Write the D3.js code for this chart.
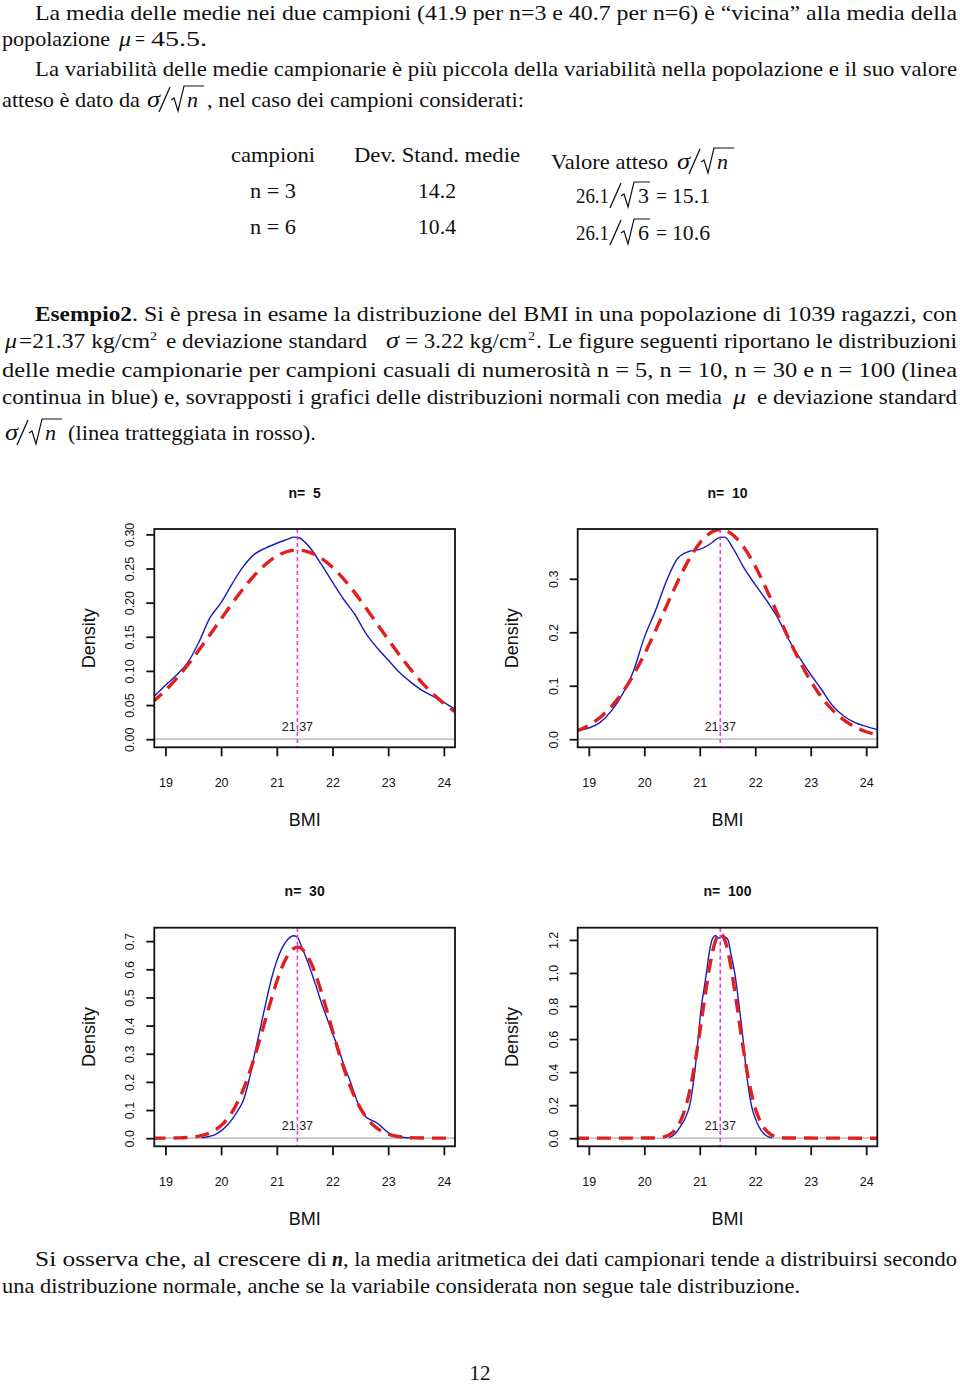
<!DOCTYPE html>
<html><head><meta charset="utf-8">
<script src="https://cdn.jsdelivr.net/npm/d3@7"></script>
<style>body{margin:0;background:#fff}</style>
</head><body>
<script>
// ---------------- DATA ----------------
const mu = 21.37;
const xLim = [18.8, 24.2];
const xTicks = [19, 20, 21, 22, 23, 24];
const titles = ["n=  5", "n=  10", "n=  30", "n=  100"];
const yTicks5 = [0, 0.05, 0.10, 0.15, 0.20, 0.25, 0.30];
const yTicks10 = [0, 0.1, 0.2, 0.3];
const yTicks30 = [0, 0.1, 0.2, 0.3, 0.4, 0.5, 0.6, 0.7];
const yTicks100 = [0, 0.2, 0.4, 0.6, 0.8, 1.0, 1.2];

// sample-mean densities (blue solid)
const bmi5 = [18.79,19.0,19.2,19.4,19.6,19.8,20.0,20.2,20.4,20.6,20.8,21.0,21.2,21.3,21.4,21.5,21.6,21.8,22.0,22.2,22.4,22.6,22.8,23.0,23.2,23.4,23.6,23.8,24.0,24.22];
const dens5 = [0.062,0.079,0.094,0.112,0.142,0.178,0.200,0.228,0.253,0.271,0.280,0.287,0.293,0.296,0.295,0.289,0.280,0.256,0.230,0.205,0.183,0.155,0.134,0.116,0.098,0.084,0.072,0.063,0.054,0.043];
const bmi10 = [18.8,19.0,19.2,19.4,19.6,19.8,20.0,20.2,20.4,20.6,20.8,21.0,21.2,21.35,21.45,21.6,21.8,22.0,22.2,22.4,22.6,22.8,23.0,23.2,23.4,23.6,23.8,24.0,24.2];
const dens10 = [0.016,0.021,0.031,0.052,0.083,0.126,0.190,0.240,0.296,0.338,0.351,0.355,0.366,0.377,0.378,0.357,0.320,0.289,0.260,0.228,0.187,0.152,0.121,0.092,0.062,0.043,0.031,0.024,0.018];
const bmi30 = [19.65,19.8,19.9,20.0,20.1,20.2,20.3,20.4,20.5,20.6,20.7,20.8,20.9,21.0,21.1,21.2,21.3,21.36,21.45,21.6,21.7,21.8,21.9,22.0,22.1,22.2,22.3,22.4,22.5,22.6,22.7,22.8,22.9,23.0,23.1,23.2,23.4];
const dens30 = [0.001,0.007,0.014,0.026,0.044,0.068,0.098,0.135,0.205,0.298,0.387,0.478,0.563,0.630,0.678,0.707,0.719,0.716,0.678,0.601,0.543,0.482,0.427,0.372,0.322,0.263,0.212,0.155,0.103,0.075,0.064,0.054,0.037,0.020,0.010,0.005,0.001];
const bmi100 = [20.45,20.55,20.65,20.75,20.82,20.87,20.91,20.97,21.03,21.08,21.12,21.17,21.22,21.28,21.35,21.42,21.47,21.51,21.57,21.63,21.71,21.78,21.84,21.93,22.0,22.1,22.2,22.3];
const dens100 = [0.003,0.025,0.070,0.130,0.200,0.300,0.400,0.600,0.800,0.910,1.000,1.120,1.200,1.225,1.210,1.225,1.215,1.200,1.100,1.000,0.800,0.600,0.400,0.200,0.120,0.050,0.015,0.003];

// normal reference curves (red dashed)
const normX5 = [18.75,19,19.25,19.5,19.75,20,20.25,20.5,20.75,21,21.25,21.37,21.5,21.75,22,22.25,22.5,22.75,23,23.25,23.5,23.75,24,24.25];
const normY5 = [0.0530,0.0715,0.0937,0.1192,0.1471,0.1762,0.2047,0.2308,0.2525,0.2681,0.2761,0.2770,0.2759,0.2676,0.2518,0.2299,0.2036,0.1750,0.1460,0.1182,0.0928,0.0707,0.0523,0.0375];
const normX10 = normX5;
const normY10 = [0.0143,0.0261,0.0449,0.0726,0.1105,0.1585,0.2140,0.2720,0.3255,0.3668,0.3891,0.3918,0.3886,0.3654,0.3235,0.2697,0.2117,0.1564,0.1088,0.0713,0.0439,0.0255,0.0140,0.0072];
const normX30 = [18.75,19.25,19.5,19.625,19.75,19.875,20,20.125,20.25,20.375,20.5,20.625,20.75,20.875,21,21.125,21.25,21.375,21.5,21.625,21.75,21.875,22,22.125,22.25,22.375,22.5,22.625,22.75,22.875,23,23.125,23.25,23.5,24.25];
const normY30 = [0.0000,0.0010,0.0043,0.0083,0.0152,0.0268,0.0449,0.0721,0.1105,0.1620,0.2270,0.3040,0.3892,0.4761,0.5567,0.6222,0.6646,0.6786,0.6622,0.6177,0.5507,0.4692,0.3822,0.2975,0.2214,0.1574,0.1070,0.0695,0.0432,0.0256,0.0145,0.0079,0.0041,0.0010,0.0000];
const normX100 = [18.75,20.17,20.27,20.37,20.47,20.57,20.67,20.77,20.87,20.97,21.07,21.17,21.27,21.37,21.47,21.57,21.67,21.77,21.87,21.97,22.07,22.17,22.27,22.37,22.47,22.57,24.25];
const normY100 = [0,0.0012,0.0036,0.0100,0.0249,0.0566,0.1166,0.2183,0.3711,0.5727,0.8027,1.0216,1.1806,1.2390,1.1806,1.0216,0.8027,0.5727,0.3711,0.2183,0.1166,0.0566,0.0249,0.0100,0.0036,0.0012,0];

// ---------------- DRAW ----------------
const W = 960, H = 1385;
const serif = "'Liberation Serif','Times New Roman',serif";
const sans = "'Liberation Sans',Arial,Helvetica,sans-serif";
const FS = 22;
const svg = d3.select("body").append("svg").attr("width", W).attr("height", H);
svg.append("rect").attr("width", W).attr("height", H).attr("fill", "#fff");

function seg(x1, x2, y, str, opt = {}) {
  const t = svg.append("text").attr("x", x1).attr("y", y).text(str)
    .style("font-family", serif).style("font-size", (opt.size || FS) + "px").attr("fill", "#111");
  if (opt.italic) t.style("font-style", "italic");
  if (opt.bold) t.style("font-weight", "bold");
  if (opt.anchor) t.attr("text-anchor", opt.anchor);
  if (x2 != null) t.attr("textLength", x2 - x1).attr("lengthAdjust", "spacingAndGlyphs");
  return t;
}
function slash(x, y) {
  svg.append("line").attr("x1", x).attr("y1", y + 5).attr("x2", x + 11).attr("y2", y - 20)
    .attr("stroke", "#111").attr("stroke-width", 1.3);
}
function radical(x, y, w) {
  svg.append("path").attr("d", `M${x},${y - 7} L${x + 3},${y - 9} L${x + 7},${y + 4} L${x + 13},${y - 21} L${x + 13 + w},${y - 21}`)
    .attr("fill", "none").attr("stroke", "#111").attr("stroke-width", 1.2);
}
function sigmaSqrtN(x, y) {
  seg(x, x + 13, y, "σ", { italic: true, size: 23 });
  slash(x + 12, y);
  radical(x + 24, y, 20);
  seg(x + 40, x + 51, y, "n", { italic: true });
}

// paragraph 1
seg(35, 957, 20, "La media delle medie nei due campioni (41.9 per n=3 e 40.7 per n=6) è “vicina” alla media della");
seg(2, 110, 46, "popolazione");
seg(119, 131, 46, "μ", { italic: true });
seg(135, 145, 46, "=");
seg(151, 207, 46, "45.5.");
seg(35, 957, 76, "La variabilità delle medie campionarie è più piccola della variabilità nella popolazione e il suo valore");
seg(2, 140, 107, "atteso è dato da");
sigmaSqrtN(147, 107);
seg(207, 524, 107, ", nel caso dei campioni considerati:");

// table
seg(231, 315, 162, "campioni");
seg(354, 520, 162, "Dev. Stand. medie");
seg(551, 668, 169, "Valore atteso");
sigmaSqrtN(677, 169);
seg(250, 296, 198, "n = 3");
seg(418, 456, 198, "14.2");
seg(576, 609, 203, "26.1");
slash(610, 203); radical(621, 203, 16); seg(638, 649, 203, "3");
seg(656, 667, 203, "=");
seg(672, 710, 203, "15.1");
seg(250, 296, 234, "n = 6");
seg(418, 456, 234, "10.4");
seg(576, 609, 240, "26.1");
slash(610, 240); radical(621, 240, 16); seg(638, 649, 240, "6");
seg(656, 667, 240, "=");
seg(672, 710, 240, "10.6");

// paragraph Esempio2
seg(35, 132, 321, "Esempio2", { bold: true });
seg(132, 957, 321, ". Si è presa in esame la distribuzione del BMI in una popolazione di 1039 ragazzi, con");
seg(5, 17, 348, "μ", { italic: true });
seg(19, 150, 348, "=21.37 kg/cm");
seg(150, 157, 340, "2", { size: 13 });
seg(166, 367, 348, "e deviazione standard");
seg(386, 399, 348, "σ", { italic: true, size: 23 });
seg(405, 527, 348, "= 3.22 kg/cm");
seg(528, 535, 340, "2", { size: 13 });
seg(536, 957, 348, ". Le figure seguenti riportano le distribuzioni");
seg(2, 957, 377, "delle medie campionarie per campioni casuali di numerosità n = 5, n = 10, n = 30 e n = 100 (linea");
seg(2, 722, 404, "continua in blue) e, sovrapposti i grafici delle distribuzioni normali con media");
seg(733, 746, 404, "μ", { italic: true });
seg(757, 957, 404, "e deviazione standard");
sigmaSqrtN(5, 440);
seg(68, 316, 440, "(linea tratteggiata in rosso).");

// final paragraph
seg(35, 327, 1266, "Si osserva che, al crescere di");
seg(332, 343, 1266, "n", { bold: true, italic: true });
seg(343, 957, 1266, ", la media aritmetica dei dati campionari tende a distribuirsi secondo");
seg(2, 800, 1293, "una distribuzione normale, anche se la variabile considerata non segue tale distribuzione.");
seg(480, null, 1380, "12", { anchor: "middle", size: 21 });

// ---------------- PLOTS ----------------
const panels = [
  { title: titles[0], bx: bmi5, by: dens5, nx: normX5, ny: normY5, yt: yTicks5, fmt: ".2f", col: 0, row: 0 },
  { title: titles[1], bx: bmi10, by: dens10, nx: normX10, ny: normY10, yt: yTicks10, fmt: ".1f", col: 1, row: 0 },
  { title: titles[2], bx: bmi30, by: dens30, nx: normX30, ny: normY30, yt: yTicks30, fmt: ".1f", col: 0, row: 1 },
  { title: titles[3], bx: bmi100, by: dens100, nx: normX100, ny: normY100, yt: yTicks100, fmt: ".1f", col: 1, row: 1 }
];
const colX = [[154.3, 455], [577.7, 877.3]];
const rowY = [[529, 747.3], [927.7, 1146.3]];

panels.forEach((p, i) => {
  const [x0, x1] = colX[p.col], [y0, y1] = rowY[p.row];
  const M = d3.max(p.by);
  const x = d3.scaleLinear().domain(xLim).range([x0, x1]);
  const y = d3.scaleLinear().domain([-0.04 * M, 1.04 * M]).range([y1, y0]);
  const cid = "clip" + i;
  svg.append("clipPath").attr("id", cid).append("rect")
    .attr("x", x0).attr("y", y0).attr("width", x1 - x0).attr("height", y1 - y0);
  const pg = svg.append("g").attr("clip-path", `url(#${cid})`);

  pg.append("line").attr("x1", x0).attr("x2", x1).attr("y1", y(0)).attr("y2", y(0))
    .attr("stroke", "#c4c4c4").attr("stroke-width", 1.8);
  pg.append("text").attr("x", x(mu)).attr("y", y(0) - 12.5).attr("dy", "0.35em")
    .attr("text-anchor", "middle").style("font-family", sans).style("font-size", "12.5px")
    .attr("fill", "#222").text(d3.format(".2f")(mu));

  const blue = p.bx.map((v, k) => [v, p.by[k]]);
  const red = p.nx.map((v, k) => [v, p.ny[k]]);
  const line = d3.line().x(d => x(d[0])).y(d => y(d[1])).curve(d3.curveMonotoneX);
  pg.append("path").attr("d", line(blue)).attr("fill", "none")
    .attr("stroke", "#1a1ab8").attr("stroke-width", 1.4);
  pg.append("path").attr("d", line(red)).attr("fill", "none")
    .attr("stroke", "#e01f1f").attr("stroke-width", 3.4).attr("stroke-dasharray", "14,8");
  pg.append("line").attr("x1", x(mu)).attr("x2", x(mu)).attr("y1", y0).attr("y2", y1)
    .attr("stroke", "#e03ce0").attr("stroke-width", 1.6).attr("stroke-dasharray", "4,3");

  svg.append("rect").attr("x", x0).attr("y", y0).attr("width", x1 - x0).attr("height", y1 - y0)
    .attr("fill", "none").attr("stroke", "#111").attr("stroke-width", 1.8);

  const gx = svg.append("g").attr("transform", `translate(0,${y1})`)
    .call(d3.axisBottom(x).tickValues(xTicks).tickSize(9).tickSizeOuter(0).tickFormat(d3.format("d")));
  gx.select(".domain").remove();
  gx.selectAll(".tick line").attr("stroke", "#111").attr("stroke-width", 1.8);
  gx.selectAll(".tick text").attr("y", 35.4).attr("dy", "0.35em")
    .style("font-family", sans).style("font-size", "12.5px").attr("fill", "#111");

  const gy = svg.append("g").attr("transform", `translate(${x0},0)`)
    .call(d3.axisLeft(y).tickValues(p.yt).tickSize(8).tickSizeOuter(0).tickFormat(d3.format(p.fmt)));
  gy.select(".domain").remove();
  gy.selectAll(".tick line").attr("stroke", "#111").attr("stroke-width", 1.8);
  gy.selectAll(".tick text").attr("x", 0).attr("dy", "0.35em")
    .attr("transform", "translate(-24.5,0) rotate(-90)").attr("text-anchor", "middle")
    .style("font-family", sans).style("font-size", "12.5px").attr("fill", "#111");

  svg.append("text").attr("x", (x0 + x1) / 2).attr("y", y0 - 36.3).attr("dy", "0.35em")
    .attr("text-anchor", "middle").style("font-family", sans).style("font-size", "14px")
    .style("font-weight", "bold").style("white-space", "pre").attr("fill", "#111").text(p.title);
  svg.append("text").attr("x", (x0 + x1) / 2).attr("y", y1 + 72.7).attr("dy", "0.35em")
    .attr("text-anchor", "middle").style("font-family", sans).style("font-size", "18px")
    .attr("fill", "#111").text("BMI");
  svg.append("text").attr("transform", `translate(${x0 - 66},${(y0 + y1) / 2}) rotate(-90)`)
    .attr("dy", "0.35em").attr("text-anchor", "middle").style("font-family", sans)
    .style("font-size", "18px").attr("fill", "#111").text("Density");
});
</script>
</body></html>
